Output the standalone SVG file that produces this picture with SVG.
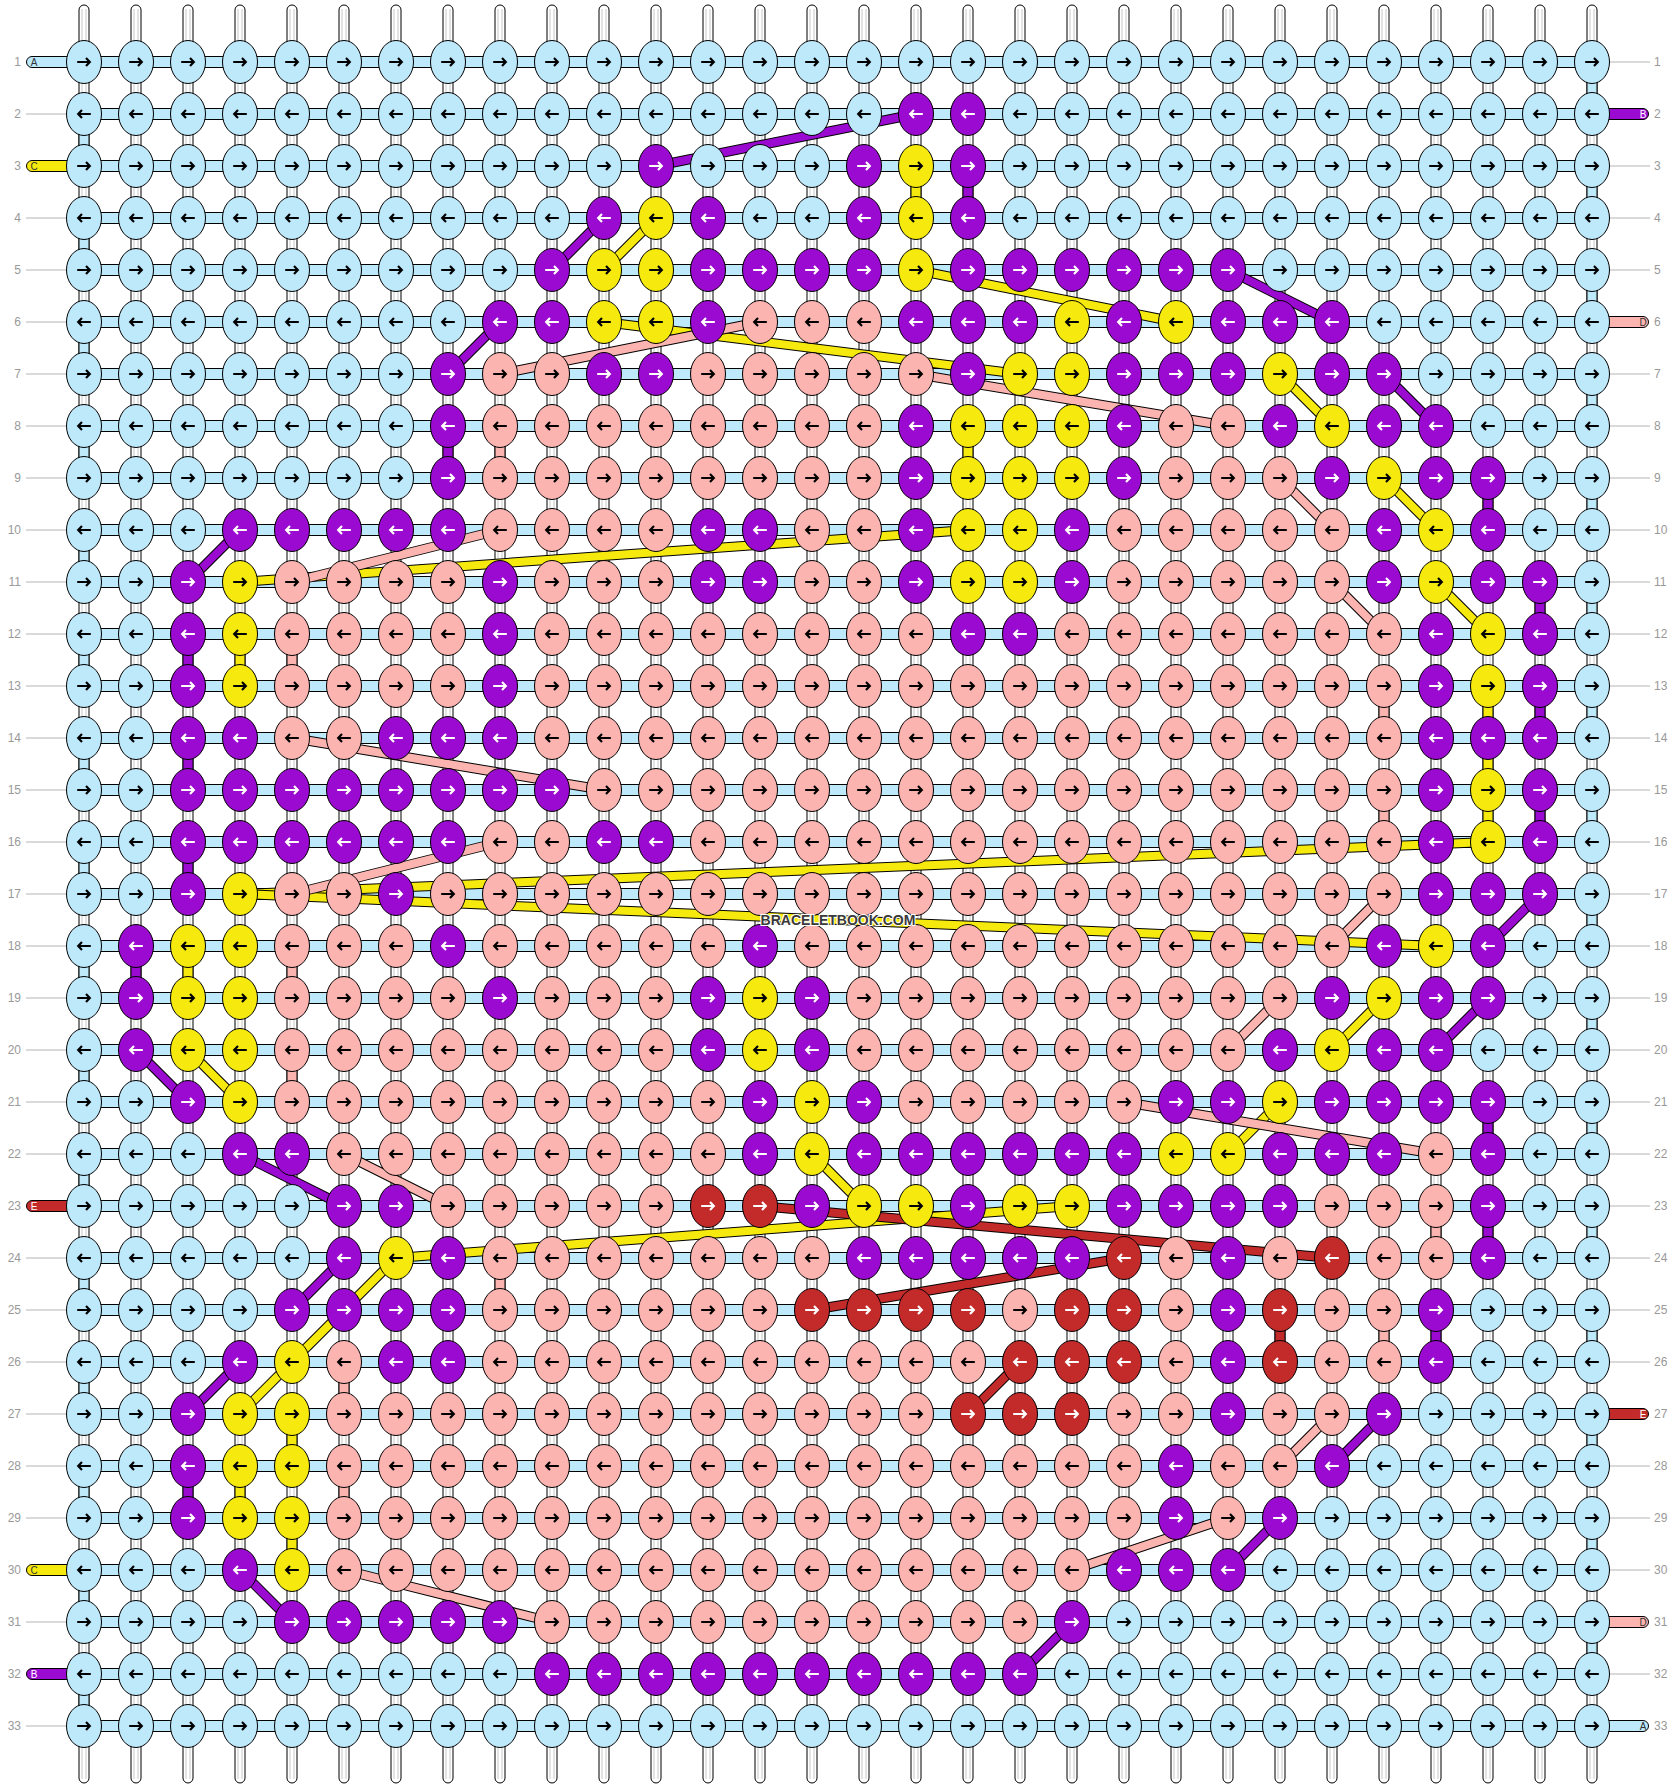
<svg xmlns="http://www.w3.org/2000/svg" xmlns:xlink="http://www.w3.org/1999/xlink" width="1676" height="1788" viewBox="0 0 1676 1788">
<style>
.n{font-family:"Liberation Sans",Arial,sans-serif;font-size:12px;fill:#999}
.ne{text-anchor:end}
.lt{font-family:"Liberation Sans",Arial,sans-serif;font-size:10px;text-anchor:middle}
.wm{font-family:"Liberation Sans",Arial,sans-serif;font-weight:bold;font-size:14px;fill:#3a3a3a;text-anchor:middle;stroke:#fff;stroke-width:2;paint-order:stroke}
.gl{stroke:#b4b4b4;stroke-width:1;fill:none}
.o{stroke:#000;stroke-width:10}
.v{stroke-width:9}
.o.v{stroke-width:11}
.A{stroke:#bee9fb}.B{stroke:#9b0ad0}.C{stroke:#f6e90e}.D{stroke:#fbb4b0}.E{stroke:#c32a2a}
</style>
<defs>
<g id="s"><rect x="-5" y="5" width="10" height="1778" rx="5" fill="#fff" stroke="#000"/><path d="M-2 9V1779M2 9V1779" stroke="#c8c8c8" fill="none"/></g>
<rect id="bd" x="84" y="-5.5" width="1508" height="11" fill="#bee9fb" stroke="#000"/>
<ellipse id="e" rx="17.5" ry="21.5" stroke="#000"/>
<path id="pr" d="M-6.8 0H5M2-3.9L5.8 0L2 3.9" fill="none" stroke-width="2.2"/>
<path id="pl" d="M6.8 0H-5M-2-3.9L-5.8 0L-2 3.9" fill="none" stroke-width="2.2"/>
<g id="Ar"><use href="#e" fill="#bee9fb"/><use href="#pr" stroke="#000"/></g>
<g id="Al"><use href="#e" fill="#bee9fb"/><use href="#pl" stroke="#000"/></g>
<g id="Br"><use href="#e" fill="#9b0ad0"/><use href="#pr" stroke="#fff"/></g>
<g id="Bl"><use href="#e" fill="#9b0ad0"/><use href="#pl" stroke="#fff"/></g>
<g id="Cr"><use href="#e" fill="#f6e90e"/><use href="#pr" stroke="#000"/></g>
<g id="Cl"><use href="#e" fill="#f6e90e"/><use href="#pl" stroke="#000"/></g>
<g id="Dr"><use href="#e" fill="#fbb4b0"/><use href="#pr" stroke="#000"/></g>
<g id="Dl"><use href="#e" fill="#fbb4b0"/><use href="#pl" stroke="#000"/></g>
<g id="Er"><use href="#e" fill="#c32a2a"/><use href="#pr" stroke="#fff"/></g>
<g id="El"><use href="#e" fill="#c32a2a"/><use href="#pl" stroke="#fff"/></g>
</defs>
<rect width="1676" height="1788" fill="#fff"/>
<g id="strings">
<use href="#s" x="84"/><use href="#s" x="136"/><use href="#s" x="188"/><use href="#s" x="240"/><use href="#s" x="292"/><use href="#s" x="344"/><use href="#s" x="396"/><use href="#s" x="448"/><use href="#s" x="500"/><use href="#s" x="552"/><use href="#s" x="604"/><use href="#s" x="656"/><use href="#s" x="708"/><use href="#s" x="760"/><use href="#s" x="812"/><use href="#s" x="864"/><use href="#s" x="916"/><use href="#s" x="968"/><use href="#s" x="1020"/><use href="#s" x="1072"/><use href="#s" x="1124"/><use href="#s" x="1176"/><use href="#s" x="1228"/><use href="#s" x="1280"/><use href="#s" x="1332"/><use href="#s" x="1384"/><use href="#s" x="1436"/><use href="#s" x="1488"/><use href="#s" x="1540"/><use href="#s" x="1592"/>
</g>
<g id="rowbands">
<use href="#bd" y="62"/><use href="#bd" y="114"/><use href="#bd" y="166"/><use href="#bd" y="218"/><use href="#bd" y="270"/><use href="#bd" y="322"/><use href="#bd" y="374"/><use href="#bd" y="426"/><use href="#bd" y="478"/><use href="#bd" y="530"/><use href="#bd" y="582"/><use href="#bd" y="634"/><use href="#bd" y="686"/><use href="#bd" y="738"/><use href="#bd" y="790"/><use href="#bd" y="842"/><use href="#bd" y="894"/><use href="#bd" y="946"/><use href="#bd" y="998"/><use href="#bd" y="1050"/><use href="#bd" y="1102"/><use href="#bd" y="1154"/><use href="#bd" y="1206"/><use href="#bd" y="1258"/><use href="#bd" y="1310"/><use href="#bd" y="1362"/><use href="#bd" y="1414"/><use href="#bd" y="1466"/><use href="#bd" y="1518"/><use href="#bd" y="1570"/><use href="#bd" y="1622"/><use href="#bd" y="1674"/><use href="#bd" y="1726"/>
</g>
<g id="labels">
<path class="gl" d="M26 114H66M26 218H66M26 270H66M26 322H66M26 374H66M26 426H66M26 478H66M26 530H66M26 582H66M26 634H66M26 686H66M26 738H66M26 790H66M26 842H66M26 894H66M26 946H66M26 998H66M26 1050H66M26 1102H66M26 1154H66M26 1258H66M26 1310H66M26 1362H66M26 1414H66M26 1466H66M26 1518H66M26 1622H66M26 1726H66"/>
<path class="gl" d="M1610 62H1650M1610 166H1650M1610 218H1650M1610 270H1650M1610 374H1650M1610 426H1650M1610 478H1650M1610 530H1650M1610 582H1650M1610 634H1650M1610 686H1650M1610 738H1650M1610 790H1650M1610 842H1650M1610 894H1650M1610 946H1650M1610 998H1650M1610 1050H1650M1610 1102H1650M1610 1154H1650M1610 1206H1650M1610 1258H1650M1610 1310H1650M1610 1362H1650M1610 1466H1650M1610 1518H1650M1610 1570H1650M1610 1674H1650"/>
<path d="M75 56.5H32A5.5 5.5 0 0 0 32 67.5H75Z" fill="#bee9fb" stroke="#000"/>
<path d="M75 160.5H32A5.5 5.5 0 0 0 32 171.5H75Z" fill="#f6e90e" stroke="#000"/>
<path d="M75 1200.5H32A5.5 5.5 0 0 0 32 1211.5H75Z" fill="#c32a2a" stroke="#000"/>
<path d="M75 1564.5H32A5.5 5.5 0 0 0 32 1575.5H75Z" fill="#f6e90e" stroke="#000"/>
<path d="M75 1668.5H32A5.5 5.5 0 0 0 32 1679.5H75Z" fill="#9b0ad0" stroke="#000"/>
<path d="M1601 108.5H1643A5.5 5.5 0 0 1 1643 119.5H1601Z" fill="#9b0ad0" stroke="#000"/>
<path d="M1601 316.5H1643A5.5 5.5 0 0 1 1643 327.5H1601Z" fill="#fbb4b0" stroke="#000"/>
<path d="M1601 1408.5H1643A5.5 5.5 0 0 1 1643 1419.5H1601Z" fill="#c32a2a" stroke="#000"/>
<path d="M1601 1616.5H1643A5.5 5.5 0 0 1 1643 1627.5H1601Z" fill="#fbb4b0" stroke="#000"/>
<path d="M1601 1720.5H1643A5.5 5.5 0 0 1 1643 1731.5H1601Z" fill="#bee9fb" stroke="#000"/>
<text class="lt" x="34" y="65.5" fill="#333">A</text>
<text class="lt" x="34" y="169.5" fill="#333">C</text>
<text class="lt" x="34" y="1209.5" fill="#fff">E</text>
<text class="lt" x="34" y="1573.5" fill="#333">C</text>
<text class="lt" x="34" y="1677.5" fill="#fff">B</text>
<text class="lt" x="1643" y="117.5" fill="#fff">B</text>
<text class="lt" x="1643" y="325.5" fill="#333">D</text>
<text class="lt" x="1643" y="1417.5" fill="#fff">E</text>
<text class="lt" x="1643" y="1625.5" fill="#333">D</text>
<text class="lt" x="1643" y="1729.5" fill="#333">A</text>
<g class="n ne">
<text x="21" y="66">1</text><text x="21" y="118">2</text><text x="21" y="170">3</text><text x="21" y="222">4</text><text x="21" y="274">5</text><text x="21" y="326">6</text><text x="21" y="378">7</text><text x="21" y="430">8</text><text x="21" y="482">9</text><text x="21" y="534">10</text><text x="21" y="586">11</text><text x="21" y="638">12</text><text x="21" y="690">13</text><text x="21" y="742">14</text><text x="21" y="794">15</text><text x="21" y="846">16</text><text x="21" y="898">17</text><text x="21" y="950">18</text><text x="21" y="1002">19</text><text x="21" y="1054">20</text><text x="21" y="1106">21</text><text x="21" y="1158">22</text><text x="21" y="1210">23</text><text x="21" y="1262">24</text><text x="21" y="1314">25</text><text x="21" y="1366">26</text><text x="21" y="1418">27</text><text x="21" y="1470">28</text><text x="21" y="1522">29</text><text x="21" y="1574">30</text><text x="21" y="1626">31</text><text x="21" y="1678">32</text><text x="21" y="1730">33</text>
</g>
<g class="n">
<text x="1654" y="66">1</text><text x="1654" y="118">2</text><text x="1654" y="170">3</text><text x="1654" y="222">4</text><text x="1654" y="274">5</text><text x="1654" y="326">6</text><text x="1654" y="378">7</text><text x="1654" y="430">8</text><text x="1654" y="482">9</text><text x="1654" y="534">10</text><text x="1654" y="586">11</text><text x="1654" y="638">12</text><text x="1654" y="690">13</text><text x="1654" y="742">14</text><text x="1654" y="794">15</text><text x="1654" y="846">16</text><text x="1654" y="898">17</text><text x="1654" y="950">18</text><text x="1654" y="1002">19</text><text x="1654" y="1054">20</text><text x="1654" y="1106">21</text><text x="1654" y="1158">22</text><text x="1654" y="1210">23</text><text x="1654" y="1262">24</text><text x="1654" y="1314">25</text><text x="1654" y="1366">26</text><text x="1654" y="1418">27</text><text x="1654" y="1470">28</text><text x="1654" y="1522">29</text><text x="1654" y="1574">30</text><text x="1654" y="1626">31</text><text x="1654" y="1678">32</text><text x="1654" y="1730">33</text>
</g>
</g>
<g id="connectors" fill="none" stroke-width="8">
<path class="o v" d="M1592 62V114M84 114V166M1592 166V218M84 218V270M1592 270V322M84 322V374M1592 374V426M84 426V478M1592 478V530M84 530V582M1592 582V634M84 634V686M1592 686V738M84 738V790M1592 790V842M84 842V894M1592 894V946M84 946V998M1592 998V1050M84 1050V1102M1592 1102V1154M84 1154V1206M1592 1206V1258M84 1258V1310M1592 1310V1362M84 1362V1414M1592 1414V1466M84 1466V1518M1592 1518V1570M84 1570V1622M1592 1622V1674M84 1674V1726"/>
<path class="v A" d="M1592 62V114M84 114V166M1592 166V218M84 218V270M1592 270V322M84 322V374M1592 374V426M84 426V478M1592 478V530M84 530V582M1592 582V634M84 634V686M1592 686V738M84 738V790M1592 790V842M84 842V894M1592 894V946M84 946V998M1592 998V1050M84 1050V1102M1592 1102V1154M84 1154V1206M1592 1206V1258M84 1258V1310M1592 1310V1362M84 1362V1414M1592 1414V1466M84 1466V1518M1592 1518V1570M84 1570V1622M1592 1622V1674M84 1674V1726"/>
<path class="o" d="M916 114L656 166"/><path class="B" d="M916 114L656 166"/>
<path class="o v" d="M968 166V218"/><path class="v B" d="M968 166V218"/>
<path class="o" d="M604 218L552 270"/><path class="B" d="M604 218L552 270"/>
<path class="o" d="M1228 270L1332 322"/><path class="B" d="M1228 270L1332 322"/>
<path class="o" d="M500 322L448 374"/><path class="B" d="M500 322L448 374"/>
<path class="o" d="M1384 374L1436 426"/><path class="B" d="M1384 374L1436 426"/>
<path class="o v" d="M448 426V478"/><path class="v B" d="M448 426V478"/>
<path class="o v" d="M1488 478V530"/><path class="v B" d="M1488 478V530"/>
<path class="o" d="M240 530L188 582"/><path class="B" d="M240 530L188 582"/>
<path class="o v" d="M1540 582V634"/><path class="v B" d="M1540 582V634"/>
<path class="o v" d="M188 634V686"/><path class="v B" d="M188 634V686"/>
<path class="o v" d="M1540 686V738"/><path class="v B" d="M1540 686V738"/>
<path class="o v" d="M188 738V790"/><path class="v B" d="M188 738V790"/>
<path class="o v" d="M1540 790V842"/><path class="v B" d="M1540 790V842"/>
<path class="o v" d="M188 842V894"/><path class="v B" d="M188 842V894"/>
<path class="o" d="M1540 894L1488 946"/><path class="B" d="M1540 894L1488 946"/>
<path class="o v" d="M136 946V998"/><path class="v B" d="M136 946V998"/>
<path class="o" d="M1488 998L1436 1050"/><path class="B" d="M1488 998L1436 1050"/>
<path class="o" d="M136 1050L188 1102"/><path class="B" d="M136 1050L188 1102"/>
<path class="o v" d="M1488 1102V1154"/><path class="v B" d="M1488 1102V1154"/>
<path class="o" d="M240 1154L344 1206"/><path class="B" d="M240 1154L344 1206"/>
<path class="o v" d="M1488 1206V1258"/><path class="v B" d="M1488 1206V1258"/>
<path class="o" d="M344 1258L292 1310"/><path class="B" d="M344 1258L292 1310"/>
<path class="o v" d="M1436 1310V1362"/><path class="v B" d="M1436 1310V1362"/>
<path class="o" d="M240 1362L188 1414"/><path class="B" d="M240 1362L188 1414"/>
<path class="o" d="M1384 1414L1332 1466"/><path class="B" d="M1384 1414L1332 1466"/>
<path class="o v" d="M188 1466V1518"/><path class="v B" d="M188 1466V1518"/>
<path class="o" d="M1280 1518L1228 1570"/><path class="B" d="M1280 1518L1228 1570"/>
<path class="o" d="M240 1570L292 1622"/><path class="B" d="M240 1570L292 1622"/>
<path class="o" d="M1072 1622L1020 1674"/><path class="B" d="M1072 1622L1020 1674"/>
<path class="o v" d="M916 166V218"/><path class="v C" d="M916 166V218"/>
<path class="o" d="M656 218L604 270"/><path class="C" d="M656 218L604 270"/>
<path class="o" d="M916 270L1176 322"/><path class="C" d="M916 270L1176 322"/>
<path class="o" d="M604 322L1020 374"/><path class="C" d="M604 322L1020 374"/>
<path class="o" d="M1280 374L1332 426"/><path class="C" d="M1280 374L1332 426"/>
<path class="o v" d="M968 426V478"/><path class="v C" d="M968 426V478"/>
<path class="o" d="M1384 478L1436 530"/><path class="C" d="M1384 478L1436 530"/>
<path class="o" d="M968 530L240 582"/><path class="C" d="M968 530L240 582"/>
<path class="o" d="M1436 582L1488 634"/><path class="C" d="M1436 582L1488 634"/>
<path class="o v" d="M240 634V686"/><path class="v C" d="M240 634V686"/>
<path class="o v" d="M1488 686V842"/><path class="v C" d="M1488 686V842"/>
<path class="o" d="M1488 842L240 894"/><path class="C" d="M1488 842L240 894"/>
<path class="o" d="M240 894L1436 946"/><path class="C" d="M240 894L1436 946"/>
<path class="o v" d="M188 946V998"/><path class="v C" d="M188 946V998"/>
<path class="o" d="M1384 998L1332 1050"/><path class="C" d="M1384 998L1332 1050"/>
<path class="o" d="M188 1050L240 1102"/><path class="C" d="M188 1050L240 1102"/>
<path class="o" d="M1280 1102L1228 1154"/><path class="C" d="M1280 1102L1228 1154"/>
<path class="o" d="M812 1154L864 1206"/><path class="C" d="M812 1154L864 1206"/>
<path class="o" d="M1072 1206L396 1258"/><path class="C" d="M1072 1206L396 1258"/>
<path class="o" d="M396 1258L292 1362"/><path class="C" d="M396 1258L292 1362"/>
<path class="o" d="M292 1362L240 1414"/><path class="C" d="M292 1362L240 1414"/>
<path class="o v" d="M292 1414V1466"/><path class="v C" d="M292 1414V1466"/>
<path class="o v" d="M240 1466V1518"/><path class="v C" d="M240 1466V1518"/>
<path class="o v" d="M292 1518V1570"/><path class="v C" d="M292 1518V1570"/>
<path class="o" d="M760 322L500 374"/><path class="D" d="M760 322L500 374"/>
<path class="o" d="M916 374L1228 426"/><path class="D" d="M916 374L1228 426"/>
<path class="o v" d="M500 426V478"/><path class="v D" d="M500 426V478"/>
<path class="o" d="M1280 478L1332 530"/><path class="D" d="M1280 478L1332 530"/>
<path class="o" d="M500 530L292 582"/><path class="D" d="M500 530L292 582"/>
<path class="o" d="M1332 582L1384 634"/><path class="D" d="M1332 582L1384 634"/>
<path class="o v" d="M292 634V686"/><path class="v D" d="M292 634V686"/>
<path class="o v" d="M1384 686V738"/><path class="v D" d="M1384 686V738"/>
<path class="o" d="M292 738L604 790"/><path class="D" d="M292 738L604 790"/>
<path class="o v" d="M1384 790V842"/><path class="v D" d="M1384 790V842"/>
<path class="o" d="M500 842L292 894"/><path class="D" d="M500 842L292 894"/>
<path class="o" d="M1384 894L1332 946"/><path class="D" d="M1384 894L1332 946"/>
<path class="o v" d="M292 946V998"/><path class="v D" d="M292 946V998"/>
<path class="o" d="M1280 998L1228 1050"/><path class="D" d="M1280 998L1228 1050"/>
<path class="o v" d="M292 1050V1102"/><path class="v D" d="M292 1050V1102"/>
<path class="o" d="M1124 1102L1436 1154"/><path class="D" d="M1124 1102L1436 1154"/>
<path class="o" d="M344 1154L448 1206"/><path class="D" d="M344 1154L448 1206"/>
<path class="o v" d="M1436 1206V1258"/><path class="v D" d="M1436 1206V1258"/>
<path class="o v" d="M500 1258V1310"/><path class="v D" d="M500 1258V1310"/>
<path class="o v" d="M1384 1310V1362"/><path class="v D" d="M1384 1310V1362"/>
<path class="o v" d="M344 1362V1414"/><path class="v D" d="M344 1362V1414"/>
<path class="o" d="M1332 1414L1280 1466"/><path class="D" d="M1332 1414L1280 1466"/>
<path class="o v" d="M344 1466V1518"/><path class="v D" d="M344 1466V1518"/>
<path class="o" d="M1228 1518L1072 1570"/><path class="D" d="M1228 1518L1072 1570"/>
<path class="o" d="M344 1570L552 1622"/><path class="D" d="M344 1570L552 1622"/>
<path class="o" d="M760 1206L1332 1258"/><path class="E" d="M760 1206L1332 1258"/>
<path class="o" d="M1124 1258L812 1310"/><path class="E" d="M1124 1258L812 1310"/>
<path class="o v" d="M1280 1310V1362"/><path class="v E" d="M1280 1310V1362"/>
<path class="o" d="M1020 1362L968 1414"/><path class="E" d="M1020 1362L968 1414"/>
</g>
<g id="knots">
<g id="row1" transform="translate(0 62)">
<g id="k1-1"><use href="#Ar" x="84"/></g><g id="k1-2"><use href="#Ar" x="136"/></g><g id="k1-3"><use href="#Ar" x="188"/></g><g id="k1-4"><use href="#Ar" x="240"/></g><g id="k1-5"><use href="#Ar" x="292"/></g><g id="k1-6"><use href="#Ar" x="344"/></g><g id="k1-7"><use href="#Ar" x="396"/></g><g id="k1-8"><use href="#Ar" x="448"/></g><g id="k1-9"><use href="#Ar" x="500"/></g><g id="k1-10"><use href="#Ar" x="552"/></g><g id="k1-11"><use href="#Ar" x="604"/></g><g id="k1-12"><use href="#Ar" x="656"/></g><g id="k1-13"><use href="#Ar" x="708"/></g><g id="k1-14"><use href="#Ar" x="760"/></g><g id="k1-15"><use href="#Ar" x="812"/></g><g id="k1-16"><use href="#Ar" x="864"/></g><g id="k1-17"><use href="#Ar" x="916"/></g><g id="k1-18"><use href="#Ar" x="968"/></g><g id="k1-19"><use href="#Ar" x="1020"/></g><g id="k1-20"><use href="#Ar" x="1072"/></g><g id="k1-21"><use href="#Ar" x="1124"/></g><g id="k1-22"><use href="#Ar" x="1176"/></g><g id="k1-23"><use href="#Ar" x="1228"/></g><g id="k1-24"><use href="#Ar" x="1280"/></g><g id="k1-25"><use href="#Ar" x="1332"/></g><g id="k1-26"><use href="#Ar" x="1384"/></g><g id="k1-27"><use href="#Ar" x="1436"/></g><g id="k1-28"><use href="#Ar" x="1488"/></g><g id="k1-29"><use href="#Ar" x="1540"/></g><g id="k1-30"><use href="#Ar" x="1592"/></g>
</g>
<g id="row2" transform="translate(0 114)">
<g id="k2-1"><use href="#Al" x="84"/></g><g id="k2-2"><use href="#Al" x="136"/></g><g id="k2-3"><use href="#Al" x="188"/></g><g id="k2-4"><use href="#Al" x="240"/></g><g id="k2-5"><use href="#Al" x="292"/></g><g id="k2-6"><use href="#Al" x="344"/></g><g id="k2-7"><use href="#Al" x="396"/></g><g id="k2-8"><use href="#Al" x="448"/></g><g id="k2-9"><use href="#Al" x="500"/></g><g id="k2-10"><use href="#Al" x="552"/></g><g id="k2-11"><use href="#Al" x="604"/></g><g id="k2-12"><use href="#Al" x="656"/></g><g id="k2-13"><use href="#Al" x="708"/></g><g id="k2-14"><use href="#Al" x="760"/></g><g id="k2-15"><use href="#Al" x="812"/></g><g id="k2-16"><use href="#Al" x="864"/></g><g id="k2-17"><use href="#Bl" x="916"/></g><g id="k2-18"><use href="#Bl" x="968"/></g><g id="k2-19"><use href="#Al" x="1020"/></g><g id="k2-20"><use href="#Al" x="1072"/></g><g id="k2-21"><use href="#Al" x="1124"/></g><g id="k2-22"><use href="#Al" x="1176"/></g><g id="k2-23"><use href="#Al" x="1228"/></g><g id="k2-24"><use href="#Al" x="1280"/></g><g id="k2-25"><use href="#Al" x="1332"/></g><g id="k2-26"><use href="#Al" x="1384"/></g><g id="k2-27"><use href="#Al" x="1436"/></g><g id="k2-28"><use href="#Al" x="1488"/></g><g id="k2-29"><use href="#Al" x="1540"/></g><g id="k2-30"><use href="#Al" x="1592"/></g>
</g>
<g id="row3" transform="translate(0 166)">
<g id="k3-1"><use href="#Ar" x="84"/></g><g id="k3-2"><use href="#Ar" x="136"/></g><g id="k3-3"><use href="#Ar" x="188"/></g><g id="k3-4"><use href="#Ar" x="240"/></g><g id="k3-5"><use href="#Ar" x="292"/></g><g id="k3-6"><use href="#Ar" x="344"/></g><g id="k3-7"><use href="#Ar" x="396"/></g><g id="k3-8"><use href="#Ar" x="448"/></g><g id="k3-9"><use href="#Ar" x="500"/></g><g id="k3-10"><use href="#Ar" x="552"/></g><g id="k3-11"><use href="#Ar" x="604"/></g><g id="k3-12"><use href="#Br" x="656"/></g><g id="k3-13"><use href="#Ar" x="708"/></g><g id="k3-14"><use href="#Ar" x="760"/></g><g id="k3-15"><use href="#Ar" x="812"/></g><g id="k3-16"><use href="#Br" x="864"/></g><g id="k3-17"><use href="#Cr" x="916"/></g><g id="k3-18"><use href="#Br" x="968"/></g><g id="k3-19"><use href="#Ar" x="1020"/></g><g id="k3-20"><use href="#Ar" x="1072"/></g><g id="k3-21"><use href="#Ar" x="1124"/></g><g id="k3-22"><use href="#Ar" x="1176"/></g><g id="k3-23"><use href="#Ar" x="1228"/></g><g id="k3-24"><use href="#Ar" x="1280"/></g><g id="k3-25"><use href="#Ar" x="1332"/></g><g id="k3-26"><use href="#Ar" x="1384"/></g><g id="k3-27"><use href="#Ar" x="1436"/></g><g id="k3-28"><use href="#Ar" x="1488"/></g><g id="k3-29"><use href="#Ar" x="1540"/></g><g id="k3-30"><use href="#Ar" x="1592"/></g>
</g>
<g id="row4" transform="translate(0 218)">
<g id="k4-1"><use href="#Al" x="84"/></g><g id="k4-2"><use href="#Al" x="136"/></g><g id="k4-3"><use href="#Al" x="188"/></g><g id="k4-4"><use href="#Al" x="240"/></g><g id="k4-5"><use href="#Al" x="292"/></g><g id="k4-6"><use href="#Al" x="344"/></g><g id="k4-7"><use href="#Al" x="396"/></g><g id="k4-8"><use href="#Al" x="448"/></g><g id="k4-9"><use href="#Al" x="500"/></g><g id="k4-10"><use href="#Al" x="552"/></g><g id="k4-11"><use href="#Bl" x="604"/></g><g id="k4-12"><use href="#Cl" x="656"/></g><g id="k4-13"><use href="#Bl" x="708"/></g><g id="k4-14"><use href="#Al" x="760"/></g><g id="k4-15"><use href="#Al" x="812"/></g><g id="k4-16"><use href="#Bl" x="864"/></g><g id="k4-17"><use href="#Cl" x="916"/></g><g id="k4-18"><use href="#Bl" x="968"/></g><g id="k4-19"><use href="#Al" x="1020"/></g><g id="k4-20"><use href="#Al" x="1072"/></g><g id="k4-21"><use href="#Al" x="1124"/></g><g id="k4-22"><use href="#Al" x="1176"/></g><g id="k4-23"><use href="#Al" x="1228"/></g><g id="k4-24"><use href="#Al" x="1280"/></g><g id="k4-25"><use href="#Al" x="1332"/></g><g id="k4-26"><use href="#Al" x="1384"/></g><g id="k4-27"><use href="#Al" x="1436"/></g><g id="k4-28"><use href="#Al" x="1488"/></g><g id="k4-29"><use href="#Al" x="1540"/></g><g id="k4-30"><use href="#Al" x="1592"/></g>
</g>
<g id="row5" transform="translate(0 270)">
<g id="k5-1"><use href="#Ar" x="84"/></g><g id="k5-2"><use href="#Ar" x="136"/></g><g id="k5-3"><use href="#Ar" x="188"/></g><g id="k5-4"><use href="#Ar" x="240"/></g><g id="k5-5"><use href="#Ar" x="292"/></g><g id="k5-6"><use href="#Ar" x="344"/></g><g id="k5-7"><use href="#Ar" x="396"/></g><g id="k5-8"><use href="#Ar" x="448"/></g><g id="k5-9"><use href="#Ar" x="500"/></g><g id="k5-10"><use href="#Br" x="552"/></g><g id="k5-11"><use href="#Cr" x="604"/></g><g id="k5-12"><use href="#Cr" x="656"/></g><g id="k5-13"><use href="#Br" x="708"/></g><g id="k5-14"><use href="#Br" x="760"/></g><g id="k5-15"><use href="#Br" x="812"/></g><g id="k5-16"><use href="#Br" x="864"/></g><g id="k5-17"><use href="#Cr" x="916"/></g><g id="k5-18"><use href="#Br" x="968"/></g><g id="k5-19"><use href="#Br" x="1020"/></g><g id="k5-20"><use href="#Br" x="1072"/></g><g id="k5-21"><use href="#Br" x="1124"/></g><g id="k5-22"><use href="#Br" x="1176"/></g><g id="k5-23"><use href="#Br" x="1228"/></g><g id="k5-24"><use href="#Ar" x="1280"/></g><g id="k5-25"><use href="#Ar" x="1332"/></g><g id="k5-26"><use href="#Ar" x="1384"/></g><g id="k5-27"><use href="#Ar" x="1436"/></g><g id="k5-28"><use href="#Ar" x="1488"/></g><g id="k5-29"><use href="#Ar" x="1540"/></g><g id="k5-30"><use href="#Ar" x="1592"/></g>
</g>
<g id="row6" transform="translate(0 322)">
<g id="k6-1"><use href="#Al" x="84"/></g><g id="k6-2"><use href="#Al" x="136"/></g><g id="k6-3"><use href="#Al" x="188"/></g><g id="k6-4"><use href="#Al" x="240"/></g><g id="k6-5"><use href="#Al" x="292"/></g><g id="k6-6"><use href="#Al" x="344"/></g><g id="k6-7"><use href="#Al" x="396"/></g><g id="k6-8"><use href="#Al" x="448"/></g><g id="k6-9"><use href="#Bl" x="500"/></g><g id="k6-10"><use href="#Bl" x="552"/></g><g id="k6-11"><use href="#Cl" x="604"/></g><g id="k6-12"><use href="#Cl" x="656"/></g><g id="k6-13"><use href="#Bl" x="708"/></g><g id="k6-14"><use href="#Dl" x="760"/></g><g id="k6-15"><use href="#Dl" x="812"/></g><g id="k6-16"><use href="#Dl" x="864"/></g><g id="k6-17"><use href="#Bl" x="916"/></g><g id="k6-18"><use href="#Bl" x="968"/></g><g id="k6-19"><use href="#Bl" x="1020"/></g><g id="k6-20"><use href="#Cl" x="1072"/></g><g id="k6-21"><use href="#Bl" x="1124"/></g><g id="k6-22"><use href="#Cl" x="1176"/></g><g id="k6-23"><use href="#Bl" x="1228"/></g><g id="k6-24"><use href="#Bl" x="1280"/></g><g id="k6-25"><use href="#Bl" x="1332"/></g><g id="k6-26"><use href="#Al" x="1384"/></g><g id="k6-27"><use href="#Al" x="1436"/></g><g id="k6-28"><use href="#Al" x="1488"/></g><g id="k6-29"><use href="#Al" x="1540"/></g><g id="k6-30"><use href="#Al" x="1592"/></g>
</g>
<g id="row7" transform="translate(0 374)">
<g id="k7-1"><use href="#Ar" x="84"/></g><g id="k7-2"><use href="#Ar" x="136"/></g><g id="k7-3"><use href="#Ar" x="188"/></g><g id="k7-4"><use href="#Ar" x="240"/></g><g id="k7-5"><use href="#Ar" x="292"/></g><g id="k7-6"><use href="#Ar" x="344"/></g><g id="k7-7"><use href="#Ar" x="396"/></g><g id="k7-8"><use href="#Br" x="448"/></g><g id="k7-9"><use href="#Dr" x="500"/></g><g id="k7-10"><use href="#Dr" x="552"/></g><g id="k7-11"><use href="#Br" x="604"/></g><g id="k7-12"><use href="#Br" x="656"/></g><g id="k7-13"><use href="#Dr" x="708"/></g><g id="k7-14"><use href="#Dr" x="760"/></g><g id="k7-15"><use href="#Dr" x="812"/></g><g id="k7-16"><use href="#Dr" x="864"/></g><g id="k7-17"><use href="#Dr" x="916"/></g><g id="k7-18"><use href="#Br" x="968"/></g><g id="k7-19"><use href="#Cr" x="1020"/></g><g id="k7-20"><use href="#Cr" x="1072"/></g><g id="k7-21"><use href="#Br" x="1124"/></g><g id="k7-22"><use href="#Br" x="1176"/></g><g id="k7-23"><use href="#Br" x="1228"/></g><g id="k7-24"><use href="#Cr" x="1280"/></g><g id="k7-25"><use href="#Br" x="1332"/></g><g id="k7-26"><use href="#Br" x="1384"/></g><g id="k7-27"><use href="#Ar" x="1436"/></g><g id="k7-28"><use href="#Ar" x="1488"/></g><g id="k7-29"><use href="#Ar" x="1540"/></g><g id="k7-30"><use href="#Ar" x="1592"/></g>
</g>
<g id="row8" transform="translate(0 426)">
<g id="k8-1"><use href="#Al" x="84"/></g><g id="k8-2"><use href="#Al" x="136"/></g><g id="k8-3"><use href="#Al" x="188"/></g><g id="k8-4"><use href="#Al" x="240"/></g><g id="k8-5"><use href="#Al" x="292"/></g><g id="k8-6"><use href="#Al" x="344"/></g><g id="k8-7"><use href="#Al" x="396"/></g><g id="k8-8"><use href="#Bl" x="448"/></g><g id="k8-9"><use href="#Dl" x="500"/></g><g id="k8-10"><use href="#Dl" x="552"/></g><g id="k8-11"><use href="#Dl" x="604"/></g><g id="k8-12"><use href="#Dl" x="656"/></g><g id="k8-13"><use href="#Dl" x="708"/></g><g id="k8-14"><use href="#Dl" x="760"/></g><g id="k8-15"><use href="#Dl" x="812"/></g><g id="k8-16"><use href="#Dl" x="864"/></g><g id="k8-17"><use href="#Bl" x="916"/></g><g id="k8-18"><use href="#Cl" x="968"/></g><g id="k8-19"><use href="#Cl" x="1020"/></g><g id="k8-20"><use href="#Cl" x="1072"/></g><g id="k8-21"><use href="#Bl" x="1124"/></g><g id="k8-22"><use href="#Dl" x="1176"/></g><g id="k8-23"><use href="#Dl" x="1228"/></g><g id="k8-24"><use href="#Bl" x="1280"/></g><g id="k8-25"><use href="#Cl" x="1332"/></g><g id="k8-26"><use href="#Bl" x="1384"/></g><g id="k8-27"><use href="#Bl" x="1436"/></g><g id="k8-28"><use href="#Al" x="1488"/></g><g id="k8-29"><use href="#Al" x="1540"/></g><g id="k8-30"><use href="#Al" x="1592"/></g>
</g>
<g id="row9" transform="translate(0 478)">
<g id="k9-1"><use href="#Ar" x="84"/></g><g id="k9-2"><use href="#Ar" x="136"/></g><g id="k9-3"><use href="#Ar" x="188"/></g><g id="k9-4"><use href="#Ar" x="240"/></g><g id="k9-5"><use href="#Ar" x="292"/></g><g id="k9-6"><use href="#Ar" x="344"/></g><g id="k9-7"><use href="#Ar" x="396"/></g><g id="k9-8"><use href="#Br" x="448"/></g><g id="k9-9"><use href="#Dr" x="500"/></g><g id="k9-10"><use href="#Dr" x="552"/></g><g id="k9-11"><use href="#Dr" x="604"/></g><g id="k9-12"><use href="#Dr" x="656"/></g><g id="k9-13"><use href="#Dr" x="708"/></g><g id="k9-14"><use href="#Dr" x="760"/></g><g id="k9-15"><use href="#Dr" x="812"/></g><g id="k9-16"><use href="#Dr" x="864"/></g><g id="k9-17"><use href="#Br" x="916"/></g><g id="k9-18"><use href="#Cr" x="968"/></g><g id="k9-19"><use href="#Cr" x="1020"/></g><g id="k9-20"><use href="#Cr" x="1072"/></g><g id="k9-21"><use href="#Br" x="1124"/></g><g id="k9-22"><use href="#Dr" x="1176"/></g><g id="k9-23"><use href="#Dr" x="1228"/></g><g id="k9-24"><use href="#Dr" x="1280"/></g><g id="k9-25"><use href="#Br" x="1332"/></g><g id="k9-26"><use href="#Cr" x="1384"/></g><g id="k9-27"><use href="#Br" x="1436"/></g><g id="k9-28"><use href="#Br" x="1488"/></g><g id="k9-29"><use href="#Ar" x="1540"/></g><g id="k9-30"><use href="#Ar" x="1592"/></g>
</g>
<g id="row10" transform="translate(0 530)">
<g id="k10-1"><use href="#Al" x="84"/></g><g id="k10-2"><use href="#Al" x="136"/></g><g id="k10-3"><use href="#Al" x="188"/></g><g id="k10-4"><use href="#Bl" x="240"/></g><g id="k10-5"><use href="#Bl" x="292"/></g><g id="k10-6"><use href="#Bl" x="344"/></g><g id="k10-7"><use href="#Bl" x="396"/></g><g id="k10-8"><use href="#Bl" x="448"/></g><g id="k10-9"><use href="#Dl" x="500"/></g><g id="k10-10"><use href="#Dl" x="552"/></g><g id="k10-11"><use href="#Dl" x="604"/></g><g id="k10-12"><use href="#Dl" x="656"/></g><g id="k10-13"><use href="#Bl" x="708"/></g><g id="k10-14"><use href="#Bl" x="760"/></g><g id="k10-15"><use href="#Dl" x="812"/></g><g id="k10-16"><use href="#Dl" x="864"/></g><g id="k10-17"><use href="#Bl" x="916"/></g><g id="k10-18"><use href="#Cl" x="968"/></g><g id="k10-19"><use href="#Cl" x="1020"/></g><g id="k10-20"><use href="#Bl" x="1072"/></g><g id="k10-21"><use href="#Dl" x="1124"/></g><g id="k10-22"><use href="#Dl" x="1176"/></g><g id="k10-23"><use href="#Dl" x="1228"/></g><g id="k10-24"><use href="#Dl" x="1280"/></g><g id="k10-25"><use href="#Dl" x="1332"/></g><g id="k10-26"><use href="#Bl" x="1384"/></g><g id="k10-27"><use href="#Cl" x="1436"/></g><g id="k10-28"><use href="#Bl" x="1488"/></g><g id="k10-29"><use href="#Al" x="1540"/></g><g id="k10-30"><use href="#Al" x="1592"/></g>
</g>
<g id="row11" transform="translate(0 582)">
<g id="k11-1"><use href="#Ar" x="84"/></g><g id="k11-2"><use href="#Ar" x="136"/></g><g id="k11-3"><use href="#Br" x="188"/></g><g id="k11-4"><use href="#Cr" x="240"/></g><g id="k11-5"><use href="#Dr" x="292"/></g><g id="k11-6"><use href="#Dr" x="344"/></g><g id="k11-7"><use href="#Dr" x="396"/></g><g id="k11-8"><use href="#Dr" x="448"/></g><g id="k11-9"><use href="#Br" x="500"/></g><g id="k11-10"><use href="#Dr" x="552"/></g><g id="k11-11"><use href="#Dr" x="604"/></g><g id="k11-12"><use href="#Dr" x="656"/></g><g id="k11-13"><use href="#Br" x="708"/></g><g id="k11-14"><use href="#Br" x="760"/></g><g id="k11-15"><use href="#Dr" x="812"/></g><g id="k11-16"><use href="#Dr" x="864"/></g><g id="k11-17"><use href="#Br" x="916"/></g><g id="k11-18"><use href="#Cr" x="968"/></g><g id="k11-19"><use href="#Cr" x="1020"/></g><g id="k11-20"><use href="#Br" x="1072"/></g><g id="k11-21"><use href="#Dr" x="1124"/></g><g id="k11-22"><use href="#Dr" x="1176"/></g><g id="k11-23"><use href="#Dr" x="1228"/></g><g id="k11-24"><use href="#Dr" x="1280"/></g><g id="k11-25"><use href="#Dr" x="1332"/></g><g id="k11-26"><use href="#Br" x="1384"/></g><g id="k11-27"><use href="#Cr" x="1436"/></g><g id="k11-28"><use href="#Br" x="1488"/></g><g id="k11-29"><use href="#Br" x="1540"/></g><g id="k11-30"><use href="#Ar" x="1592"/></g>
</g>
<g id="row12" transform="translate(0 634)">
<g id="k12-1"><use href="#Al" x="84"/></g><g id="k12-2"><use href="#Al" x="136"/></g><g id="k12-3"><use href="#Bl" x="188"/></g><g id="k12-4"><use href="#Cl" x="240"/></g><g id="k12-5"><use href="#Dl" x="292"/></g><g id="k12-6"><use href="#Dl" x="344"/></g><g id="k12-7"><use href="#Dl" x="396"/></g><g id="k12-8"><use href="#Dl" x="448"/></g><g id="k12-9"><use href="#Bl" x="500"/></g><g id="k12-10"><use href="#Dl" x="552"/></g><g id="k12-11"><use href="#Dl" x="604"/></g><g id="k12-12"><use href="#Dl" x="656"/></g><g id="k12-13"><use href="#Dl" x="708"/></g><g id="k12-14"><use href="#Dl" x="760"/></g><g id="k12-15"><use href="#Dl" x="812"/></g><g id="k12-16"><use href="#Dl" x="864"/></g><g id="k12-17"><use href="#Dl" x="916"/></g><g id="k12-18"><use href="#Bl" x="968"/></g><g id="k12-19"><use href="#Bl" x="1020"/></g><g id="k12-20"><use href="#Dl" x="1072"/></g><g id="k12-21"><use href="#Dl" x="1124"/></g><g id="k12-22"><use href="#Dl" x="1176"/></g><g id="k12-23"><use href="#Dl" x="1228"/></g><g id="k12-24"><use href="#Dl" x="1280"/></g><g id="k12-25"><use href="#Dl" x="1332"/></g><g id="k12-26"><use href="#Dl" x="1384"/></g><g id="k12-27"><use href="#Bl" x="1436"/></g><g id="k12-28"><use href="#Cl" x="1488"/></g><g id="k12-29"><use href="#Bl" x="1540"/></g><g id="k12-30"><use href="#Al" x="1592"/></g>
</g>
<g id="row13" transform="translate(0 686)">
<g id="k13-1"><use href="#Ar" x="84"/></g><g id="k13-2"><use href="#Ar" x="136"/></g><g id="k13-3"><use href="#Br" x="188"/></g><g id="k13-4"><use href="#Cr" x="240"/></g><g id="k13-5"><use href="#Dr" x="292"/></g><g id="k13-6"><use href="#Dr" x="344"/></g><g id="k13-7"><use href="#Dr" x="396"/></g><g id="k13-8"><use href="#Dr" x="448"/></g><g id="k13-9"><use href="#Br" x="500"/></g><g id="k13-10"><use href="#Dr" x="552"/></g><g id="k13-11"><use href="#Dr" x="604"/></g><g id="k13-12"><use href="#Dr" x="656"/></g><g id="k13-13"><use href="#Dr" x="708"/></g><g id="k13-14"><use href="#Dr" x="760"/></g><g id="k13-15"><use href="#Dr" x="812"/></g><g id="k13-16"><use href="#Dr" x="864"/></g><g id="k13-17"><use href="#Dr" x="916"/></g><g id="k13-18"><use href="#Dr" x="968"/></g><g id="k13-19"><use href="#Dr" x="1020"/></g><g id="k13-20"><use href="#Dr" x="1072"/></g><g id="k13-21"><use href="#Dr" x="1124"/></g><g id="k13-22"><use href="#Dr" x="1176"/></g><g id="k13-23"><use href="#Dr" x="1228"/></g><g id="k13-24"><use href="#Dr" x="1280"/></g><g id="k13-25"><use href="#Dr" x="1332"/></g><g id="k13-26"><use href="#Dr" x="1384"/></g><g id="k13-27"><use href="#Br" x="1436"/></g><g id="k13-28"><use href="#Cr" x="1488"/></g><g id="k13-29"><use href="#Br" x="1540"/></g><g id="k13-30"><use href="#Ar" x="1592"/></g>
</g>
<g id="row14" transform="translate(0 738)">
<g id="k14-1"><use href="#Al" x="84"/></g><g id="k14-2"><use href="#Al" x="136"/></g><g id="k14-3"><use href="#Bl" x="188"/></g><g id="k14-4"><use href="#Bl" x="240"/></g><g id="k14-5"><use href="#Dl" x="292"/></g><g id="k14-6"><use href="#Dl" x="344"/></g><g id="k14-7"><use href="#Bl" x="396"/></g><g id="k14-8"><use href="#Bl" x="448"/></g><g id="k14-9"><use href="#Bl" x="500"/></g><g id="k14-10"><use href="#Dl" x="552"/></g><g id="k14-11"><use href="#Dl" x="604"/></g><g id="k14-12"><use href="#Dl" x="656"/></g><g id="k14-13"><use href="#Dl" x="708"/></g><g id="k14-14"><use href="#Dl" x="760"/></g><g id="k14-15"><use href="#Dl" x="812"/></g><g id="k14-16"><use href="#Dl" x="864"/></g><g id="k14-17"><use href="#Dl" x="916"/></g><g id="k14-18"><use href="#Dl" x="968"/></g><g id="k14-19"><use href="#Dl" x="1020"/></g><g id="k14-20"><use href="#Dl" x="1072"/></g><g id="k14-21"><use href="#Dl" x="1124"/></g><g id="k14-22"><use href="#Dl" x="1176"/></g><g id="k14-23"><use href="#Dl" x="1228"/></g><g id="k14-24"><use href="#Dl" x="1280"/></g><g id="k14-25"><use href="#Dl" x="1332"/></g><g id="k14-26"><use href="#Dl" x="1384"/></g><g id="k14-27"><use href="#Bl" x="1436"/></g><g id="k14-28"><use href="#Bl" x="1488"/></g><g id="k14-29"><use href="#Bl" x="1540"/></g><g id="k14-30"><use href="#Al" x="1592"/></g>
</g>
<g id="row15" transform="translate(0 790)">
<g id="k15-1"><use href="#Ar" x="84"/></g><g id="k15-2"><use href="#Ar" x="136"/></g><g id="k15-3"><use href="#Br" x="188"/></g><g id="k15-4"><use href="#Br" x="240"/></g><g id="k15-5"><use href="#Br" x="292"/></g><g id="k15-6"><use href="#Br" x="344"/></g><g id="k15-7"><use href="#Br" x="396"/></g><g id="k15-8"><use href="#Br" x="448"/></g><g id="k15-9"><use href="#Br" x="500"/></g><g id="k15-10"><use href="#Br" x="552"/></g><g id="k15-11"><use href="#Dr" x="604"/></g><g id="k15-12"><use href="#Dr" x="656"/></g><g id="k15-13"><use href="#Dr" x="708"/></g><g id="k15-14"><use href="#Dr" x="760"/></g><g id="k15-15"><use href="#Dr" x="812"/></g><g id="k15-16"><use href="#Dr" x="864"/></g><g id="k15-17"><use href="#Dr" x="916"/></g><g id="k15-18"><use href="#Dr" x="968"/></g><g id="k15-19"><use href="#Dr" x="1020"/></g><g id="k15-20"><use href="#Dr" x="1072"/></g><g id="k15-21"><use href="#Dr" x="1124"/></g><g id="k15-22"><use href="#Dr" x="1176"/></g><g id="k15-23"><use href="#Dr" x="1228"/></g><g id="k15-24"><use href="#Dr" x="1280"/></g><g id="k15-25"><use href="#Dr" x="1332"/></g><g id="k15-26"><use href="#Dr" x="1384"/></g><g id="k15-27"><use href="#Br" x="1436"/></g><g id="k15-28"><use href="#Cr" x="1488"/></g><g id="k15-29"><use href="#Br" x="1540"/></g><g id="k15-30"><use href="#Ar" x="1592"/></g>
</g>
<g id="row16" transform="translate(0 842)">
<g id="k16-1"><use href="#Al" x="84"/></g><g id="k16-2"><use href="#Al" x="136"/></g><g id="k16-3"><use href="#Bl" x="188"/></g><g id="k16-4"><use href="#Bl" x="240"/></g><g id="k16-5"><use href="#Bl" x="292"/></g><g id="k16-6"><use href="#Bl" x="344"/></g><g id="k16-7"><use href="#Bl" x="396"/></g><g id="k16-8"><use href="#Bl" x="448"/></g><g id="k16-9"><use href="#Dl" x="500"/></g><g id="k16-10"><use href="#Dl" x="552"/></g><g id="k16-11"><use href="#Bl" x="604"/></g><g id="k16-12"><use href="#Bl" x="656"/></g><g id="k16-13"><use href="#Dl" x="708"/></g><g id="k16-14"><use href="#Dl" x="760"/></g><g id="k16-15"><use href="#Dl" x="812"/></g><g id="k16-16"><use href="#Dl" x="864"/></g><g id="k16-17"><use href="#Dl" x="916"/></g><g id="k16-18"><use href="#Dl" x="968"/></g><g id="k16-19"><use href="#Dl" x="1020"/></g><g id="k16-20"><use href="#Dl" x="1072"/></g><g id="k16-21"><use href="#Dl" x="1124"/></g><g id="k16-22"><use href="#Dl" x="1176"/></g><g id="k16-23"><use href="#Dl" x="1228"/></g><g id="k16-24"><use href="#Dl" x="1280"/></g><g id="k16-25"><use href="#Dl" x="1332"/></g><g id="k16-26"><use href="#Dl" x="1384"/></g><g id="k16-27"><use href="#Bl" x="1436"/></g><g id="k16-28"><use href="#Cl" x="1488"/></g><g id="k16-29"><use href="#Bl" x="1540"/></g><g id="k16-30"><use href="#Al" x="1592"/></g>
</g>
<g id="row17" transform="translate(0 894)">
<g id="k17-1"><use href="#Ar" x="84"/></g><g id="k17-2"><use href="#Ar" x="136"/></g><g id="k17-3"><use href="#Br" x="188"/></g><g id="k17-4"><use href="#Cr" x="240"/></g><g id="k17-5"><use href="#Dr" x="292"/></g><g id="k17-6"><use href="#Dr" x="344"/></g><g id="k17-7"><use href="#Br" x="396"/></g><g id="k17-8"><use href="#Dr" x="448"/></g><g id="k17-9"><use href="#Dr" x="500"/></g><g id="k17-10"><use href="#Dr" x="552"/></g><g id="k17-11"><use href="#Dr" x="604"/></g><g id="k17-12"><use href="#Dr" x="656"/></g><g id="k17-13"><use href="#Dr" x="708"/></g><g id="k17-14"><use href="#Dr" x="760"/></g><g id="k17-15"><use href="#Dr" x="812"/></g><g id="k17-16"><use href="#Dr" x="864"/></g><g id="k17-17"><use href="#Dr" x="916"/></g><g id="k17-18"><use href="#Dr" x="968"/></g><g id="k17-19"><use href="#Dr" x="1020"/></g><g id="k17-20"><use href="#Dr" x="1072"/></g><g id="k17-21"><use href="#Dr" x="1124"/></g><g id="k17-22"><use href="#Dr" x="1176"/></g><g id="k17-23"><use href="#Dr" x="1228"/></g><g id="k17-24"><use href="#Dr" x="1280"/></g><g id="k17-25"><use href="#Dr" x="1332"/></g><g id="k17-26"><use href="#Dr" x="1384"/></g><g id="k17-27"><use href="#Br" x="1436"/></g><g id="k17-28"><use href="#Br" x="1488"/></g><g id="k17-29"><use href="#Br" x="1540"/></g><g id="k17-30"><use href="#Ar" x="1592"/></g>
</g>
<g id="row18" transform="translate(0 946)">
<g id="k18-1"><use href="#Al" x="84"/></g><g id="k18-2"><use href="#Bl" x="136"/></g><g id="k18-3"><use href="#Cl" x="188"/></g><g id="k18-4"><use href="#Cl" x="240"/></g><g id="k18-5"><use href="#Dl" x="292"/></g><g id="k18-6"><use href="#Dl" x="344"/></g><g id="k18-7"><use href="#Dl" x="396"/></g><g id="k18-8"><use href="#Bl" x="448"/></g><g id="k18-9"><use href="#Dl" x="500"/></g><g id="k18-10"><use href="#Dl" x="552"/></g><g id="k18-11"><use href="#Dl" x="604"/></g><g id="k18-12"><use href="#Dl" x="656"/></g><g id="k18-13"><use href="#Dl" x="708"/></g><g id="k18-14"><use href="#Bl" x="760"/></g><g id="k18-15"><use href="#Dl" x="812"/></g><g id="k18-16"><use href="#Dl" x="864"/></g><g id="k18-17"><use href="#Dl" x="916"/></g><g id="k18-18"><use href="#Dl" x="968"/></g><g id="k18-19"><use href="#Dl" x="1020"/></g><g id="k18-20"><use href="#Dl" x="1072"/></g><g id="k18-21"><use href="#Dl" x="1124"/></g><g id="k18-22"><use href="#Dl" x="1176"/></g><g id="k18-23"><use href="#Dl" x="1228"/></g><g id="k18-24"><use href="#Dl" x="1280"/></g><g id="k18-25"><use href="#Dl" x="1332"/></g><g id="k18-26"><use href="#Bl" x="1384"/></g><g id="k18-27"><use href="#Cl" x="1436"/></g><g id="k18-28"><use href="#Bl" x="1488"/></g><g id="k18-29"><use href="#Al" x="1540"/></g><g id="k18-30"><use href="#Al" x="1592"/></g>
</g>
<g id="row19" transform="translate(0 998)">
<g id="k19-1"><use href="#Ar" x="84"/></g><g id="k19-2"><use href="#Br" x="136"/></g><g id="k19-3"><use href="#Cr" x="188"/></g><g id="k19-4"><use href="#Cr" x="240"/></g><g id="k19-5"><use href="#Dr" x="292"/></g><g id="k19-6"><use href="#Dr" x="344"/></g><g id="k19-7"><use href="#Dr" x="396"/></g><g id="k19-8"><use href="#Dr" x="448"/></g><g id="k19-9"><use href="#Br" x="500"/></g><g id="k19-10"><use href="#Dr" x="552"/></g><g id="k19-11"><use href="#Dr" x="604"/></g><g id="k19-12"><use href="#Dr" x="656"/></g><g id="k19-13"><use href="#Br" x="708"/></g><g id="k19-14"><use href="#Cr" x="760"/></g><g id="k19-15"><use href="#Br" x="812"/></g><g id="k19-16"><use href="#Dr" x="864"/></g><g id="k19-17"><use href="#Dr" x="916"/></g><g id="k19-18"><use href="#Dr" x="968"/></g><g id="k19-19"><use href="#Dr" x="1020"/></g><g id="k19-20"><use href="#Dr" x="1072"/></g><g id="k19-21"><use href="#Dr" x="1124"/></g><g id="k19-22"><use href="#Dr" x="1176"/></g><g id="k19-23"><use href="#Dr" x="1228"/></g><g id="k19-24"><use href="#Dr" x="1280"/></g><g id="k19-25"><use href="#Br" x="1332"/></g><g id="k19-26"><use href="#Cr" x="1384"/></g><g id="k19-27"><use href="#Br" x="1436"/></g><g id="k19-28"><use href="#Br" x="1488"/></g><g id="k19-29"><use href="#Ar" x="1540"/></g><g id="k19-30"><use href="#Ar" x="1592"/></g>
</g>
<g id="row20" transform="translate(0 1050)">
<g id="k20-1"><use href="#Al" x="84"/></g><g id="k20-2"><use href="#Bl" x="136"/></g><g id="k20-3"><use href="#Cl" x="188"/></g><g id="k20-4"><use href="#Cl" x="240"/></g><g id="k20-5"><use href="#Dl" x="292"/></g><g id="k20-6"><use href="#Dl" x="344"/></g><g id="k20-7"><use href="#Dl" x="396"/></g><g id="k20-8"><use href="#Dl" x="448"/></g><g id="k20-9"><use href="#Dl" x="500"/></g><g id="k20-10"><use href="#Dl" x="552"/></g><g id="k20-11"><use href="#Dl" x="604"/></g><g id="k20-12"><use href="#Dl" x="656"/></g><g id="k20-13"><use href="#Bl" x="708"/></g><g id="k20-14"><use href="#Cl" x="760"/></g><g id="k20-15"><use href="#Bl" x="812"/></g><g id="k20-16"><use href="#Dl" x="864"/></g><g id="k20-17"><use href="#Dl" x="916"/></g><g id="k20-18"><use href="#Dl" x="968"/></g><g id="k20-19"><use href="#Dl" x="1020"/></g><g id="k20-20"><use href="#Dl" x="1072"/></g><g id="k20-21"><use href="#Dl" x="1124"/></g><g id="k20-22"><use href="#Dl" x="1176"/></g><g id="k20-23"><use href="#Dl" x="1228"/></g><g id="k20-24"><use href="#Bl" x="1280"/></g><g id="k20-25"><use href="#Cl" x="1332"/></g><g id="k20-26"><use href="#Bl" x="1384"/></g><g id="k20-27"><use href="#Bl" x="1436"/></g><g id="k20-28"><use href="#Al" x="1488"/></g><g id="k20-29"><use href="#Al" x="1540"/></g><g id="k20-30"><use href="#Al" x="1592"/></g>
</g>
<g id="row21" transform="translate(0 1102)">
<g id="k21-1"><use href="#Ar" x="84"/></g><g id="k21-2"><use href="#Ar" x="136"/></g><g id="k21-3"><use href="#Br" x="188"/></g><g id="k21-4"><use href="#Cr" x="240"/></g><g id="k21-5"><use href="#Dr" x="292"/></g><g id="k21-6"><use href="#Dr" x="344"/></g><g id="k21-7"><use href="#Dr" x="396"/></g><g id="k21-8"><use href="#Dr" x="448"/></g><g id="k21-9"><use href="#Dr" x="500"/></g><g id="k21-10"><use href="#Dr" x="552"/></g><g id="k21-11"><use href="#Dr" x="604"/></g><g id="k21-12"><use href="#Dr" x="656"/></g><g id="k21-13"><use href="#Dr" x="708"/></g><g id="k21-14"><use href="#Br" x="760"/></g><g id="k21-15"><use href="#Cr" x="812"/></g><g id="k21-16"><use href="#Br" x="864"/></g><g id="k21-17"><use href="#Dr" x="916"/></g><g id="k21-18"><use href="#Dr" x="968"/></g><g id="k21-19"><use href="#Dr" x="1020"/></g><g id="k21-20"><use href="#Dr" x="1072"/></g><g id="k21-21"><use href="#Dr" x="1124"/></g><g id="k21-22"><use href="#Br" x="1176"/></g><g id="k21-23"><use href="#Br" x="1228"/></g><g id="k21-24"><use href="#Cr" x="1280"/></g><g id="k21-25"><use href="#Br" x="1332"/></g><g id="k21-26"><use href="#Br" x="1384"/></g><g id="k21-27"><use href="#Br" x="1436"/></g><g id="k21-28"><use href="#Br" x="1488"/></g><g id="k21-29"><use href="#Ar" x="1540"/></g><g id="k21-30"><use href="#Ar" x="1592"/></g>
</g>
<g id="row22" transform="translate(0 1154)">
<g id="k22-1"><use href="#Al" x="84"/></g><g id="k22-2"><use href="#Al" x="136"/></g><g id="k22-3"><use href="#Al" x="188"/></g><g id="k22-4"><use href="#Bl" x="240"/></g><g id="k22-5"><use href="#Bl" x="292"/></g><g id="k22-6"><use href="#Dl" x="344"/></g><g id="k22-7"><use href="#Dl" x="396"/></g><g id="k22-8"><use href="#Dl" x="448"/></g><g id="k22-9"><use href="#Dl" x="500"/></g><g id="k22-10"><use href="#Dl" x="552"/></g><g id="k22-11"><use href="#Dl" x="604"/></g><g id="k22-12"><use href="#Dl" x="656"/></g><g id="k22-13"><use href="#Dl" x="708"/></g><g id="k22-14"><use href="#Bl" x="760"/></g><g id="k22-15"><use href="#Cl" x="812"/></g><g id="k22-16"><use href="#Bl" x="864"/></g><g id="k22-17"><use href="#Bl" x="916"/></g><g id="k22-18"><use href="#Bl" x="968"/></g><g id="k22-19"><use href="#Bl" x="1020"/></g><g id="k22-20"><use href="#Bl" x="1072"/></g><g id="k22-21"><use href="#Bl" x="1124"/></g><g id="k22-22"><use href="#Cl" x="1176"/></g><g id="k22-23"><use href="#Cl" x="1228"/></g><g id="k22-24"><use href="#Bl" x="1280"/></g><g id="k22-25"><use href="#Bl" x="1332"/></g><g id="k22-26"><use href="#Bl" x="1384"/></g><g id="k22-27"><use href="#Dl" x="1436"/></g><g id="k22-28"><use href="#Bl" x="1488"/></g><g id="k22-29"><use href="#Al" x="1540"/></g><g id="k22-30"><use href="#Al" x="1592"/></g>
</g>
<g id="row23" transform="translate(0 1206)">
<g id="k23-1"><use href="#Ar" x="84"/></g><g id="k23-2"><use href="#Ar" x="136"/></g><g id="k23-3"><use href="#Ar" x="188"/></g><g id="k23-4"><use href="#Ar" x="240"/></g><g id="k23-5"><use href="#Ar" x="292"/></g><g id="k23-6"><use href="#Br" x="344"/></g><g id="k23-7"><use href="#Br" x="396"/></g><g id="k23-8"><use href="#Dr" x="448"/></g><g id="k23-9"><use href="#Dr" x="500"/></g><g id="k23-10"><use href="#Dr" x="552"/></g><g id="k23-11"><use href="#Dr" x="604"/></g><g id="k23-12"><use href="#Dr" x="656"/></g><g id="k23-13"><use href="#Er" x="708"/></g><g id="k23-14"><use href="#Er" x="760"/></g><g id="k23-15"><use href="#Br" x="812"/></g><g id="k23-16"><use href="#Cr" x="864"/></g><g id="k23-17"><use href="#Cr" x="916"/></g><g id="k23-18"><use href="#Br" x="968"/></g><g id="k23-19"><use href="#Cr" x="1020"/></g><g id="k23-20"><use href="#Cr" x="1072"/></g><g id="k23-21"><use href="#Br" x="1124"/></g><g id="k23-22"><use href="#Br" x="1176"/></g><g id="k23-23"><use href="#Br" x="1228"/></g><g id="k23-24"><use href="#Br" x="1280"/></g><g id="k23-25"><use href="#Dr" x="1332"/></g><g id="k23-26"><use href="#Dr" x="1384"/></g><g id="k23-27"><use href="#Dr" x="1436"/></g><g id="k23-28"><use href="#Br" x="1488"/></g><g id="k23-29"><use href="#Ar" x="1540"/></g><g id="k23-30"><use href="#Ar" x="1592"/></g>
</g>
<g id="row24" transform="translate(0 1258)">
<g id="k24-1"><use href="#Al" x="84"/></g><g id="k24-2"><use href="#Al" x="136"/></g><g id="k24-3"><use href="#Al" x="188"/></g><g id="k24-4"><use href="#Al" x="240"/></g><g id="k24-5"><use href="#Al" x="292"/></g><g id="k24-6"><use href="#Bl" x="344"/></g><g id="k24-7"><use href="#Cl" x="396"/></g><g id="k24-8"><use href="#Bl" x="448"/></g><g id="k24-9"><use href="#Dl" x="500"/></g><g id="k24-10"><use href="#Dl" x="552"/></g><g id="k24-11"><use href="#Dl" x="604"/></g><g id="k24-12"><use href="#Dl" x="656"/></g><g id="k24-13"><use href="#Dl" x="708"/></g><g id="k24-14"><use href="#Dl" x="760"/></g><g id="k24-15"><use href="#Dl" x="812"/></g><g id="k24-16"><use href="#Bl" x="864"/></g><g id="k24-17"><use href="#Bl" x="916"/></g><g id="k24-18"><use href="#Bl" x="968"/></g><g id="k24-19"><use href="#Bl" x="1020"/></g><g id="k24-20"><use href="#Bl" x="1072"/></g><g id="k24-21"><use href="#El" x="1124"/></g><g id="k24-22"><use href="#Dl" x="1176"/></g><g id="k24-23"><use href="#Bl" x="1228"/></g><g id="k24-24"><use href="#Dl" x="1280"/></g><g id="k24-25"><use href="#El" x="1332"/></g><g id="k24-26"><use href="#Dl" x="1384"/></g><g id="k24-27"><use href="#Dl" x="1436"/></g><g id="k24-28"><use href="#Bl" x="1488"/></g><g id="k24-29"><use href="#Al" x="1540"/></g><g id="k24-30"><use href="#Al" x="1592"/></g>
</g>
<g id="row25" transform="translate(0 1310)">
<g id="k25-1"><use href="#Ar" x="84"/></g><g id="k25-2"><use href="#Ar" x="136"/></g><g id="k25-3"><use href="#Ar" x="188"/></g><g id="k25-4"><use href="#Ar" x="240"/></g><g id="k25-5"><use href="#Br" x="292"/></g><g id="k25-6"><use href="#Br" x="344"/></g><g id="k25-7"><use href="#Br" x="396"/></g><g id="k25-8"><use href="#Br" x="448"/></g><g id="k25-9"><use href="#Dr" x="500"/></g><g id="k25-10"><use href="#Dr" x="552"/></g><g id="k25-11"><use href="#Dr" x="604"/></g><g id="k25-12"><use href="#Dr" x="656"/></g><g id="k25-13"><use href="#Dr" x="708"/></g><g id="k25-14"><use href="#Dr" x="760"/></g><g id="k25-15"><use href="#Er" x="812"/></g><g id="k25-16"><use href="#Er" x="864"/></g><g id="k25-17"><use href="#Er" x="916"/></g><g id="k25-18"><use href="#Er" x="968"/></g><g id="k25-19"><use href="#Dr" x="1020"/></g><g id="k25-20"><use href="#Er" x="1072"/></g><g id="k25-21"><use href="#Er" x="1124"/></g><g id="k25-22"><use href="#Dr" x="1176"/></g><g id="k25-23"><use href="#Br" x="1228"/></g><g id="k25-24"><use href="#Er" x="1280"/></g><g id="k25-25"><use href="#Dr" x="1332"/></g><g id="k25-26"><use href="#Dr" x="1384"/></g><g id="k25-27"><use href="#Br" x="1436"/></g><g id="k25-28"><use href="#Ar" x="1488"/></g><g id="k25-29"><use href="#Ar" x="1540"/></g><g id="k25-30"><use href="#Ar" x="1592"/></g>
</g>
<g id="row26" transform="translate(0 1362)">
<g id="k26-1"><use href="#Al" x="84"/></g><g id="k26-2"><use href="#Al" x="136"/></g><g id="k26-3"><use href="#Al" x="188"/></g><g id="k26-4"><use href="#Bl" x="240"/></g><g id="k26-5"><use href="#Cl" x="292"/></g><g id="k26-6"><use href="#Dl" x="344"/></g><g id="k26-7"><use href="#Bl" x="396"/></g><g id="k26-8"><use href="#Bl" x="448"/></g><g id="k26-9"><use href="#Dl" x="500"/></g><g id="k26-10"><use href="#Dl" x="552"/></g><g id="k26-11"><use href="#Dl" x="604"/></g><g id="k26-12"><use href="#Dl" x="656"/></g><g id="k26-13"><use href="#Dl" x="708"/></g><g id="k26-14"><use href="#Dl" x="760"/></g><g id="k26-15"><use href="#Dl" x="812"/></g><g id="k26-16"><use href="#Dl" x="864"/></g><g id="k26-17"><use href="#Dl" x="916"/></g><g id="k26-18"><use href="#Dl" x="968"/></g><g id="k26-19"><use href="#El" x="1020"/></g><g id="k26-20"><use href="#El" x="1072"/></g><g id="k26-21"><use href="#El" x="1124"/></g><g id="k26-22"><use href="#Dl" x="1176"/></g><g id="k26-23"><use href="#Bl" x="1228"/></g><g id="k26-24"><use href="#El" x="1280"/></g><g id="k26-25"><use href="#Dl" x="1332"/></g><g id="k26-26"><use href="#Dl" x="1384"/></g><g id="k26-27"><use href="#Bl" x="1436"/></g><g id="k26-28"><use href="#Al" x="1488"/></g><g id="k26-29"><use href="#Al" x="1540"/></g><g id="k26-30"><use href="#Al" x="1592"/></g>
</g>
<g id="row27" transform="translate(0 1414)">
<g id="k27-1"><use href="#Ar" x="84"/></g><g id="k27-2"><use href="#Ar" x="136"/></g><g id="k27-3"><use href="#Br" x="188"/></g><g id="k27-4"><use href="#Cr" x="240"/></g><g id="k27-5"><use href="#Cr" x="292"/></g><g id="k27-6"><use href="#Dr" x="344"/></g><g id="k27-7"><use href="#Dr" x="396"/></g><g id="k27-8"><use href="#Dr" x="448"/></g><g id="k27-9"><use href="#Dr" x="500"/></g><g id="k27-10"><use href="#Dr" x="552"/></g><g id="k27-11"><use href="#Dr" x="604"/></g><g id="k27-12"><use href="#Dr" x="656"/></g><g id="k27-13"><use href="#Dr" x="708"/></g><g id="k27-14"><use href="#Dr" x="760"/></g><g id="k27-15"><use href="#Dr" x="812"/></g><g id="k27-16"><use href="#Dr" x="864"/></g><g id="k27-17"><use href="#Dr" x="916"/></g><g id="k27-18"><use href="#Er" x="968"/></g><g id="k27-19"><use href="#Er" x="1020"/></g><g id="k27-20"><use href="#Er" x="1072"/></g><g id="k27-21"><use href="#Dr" x="1124"/></g><g id="k27-22"><use href="#Dr" x="1176"/></g><g id="k27-23"><use href="#Br" x="1228"/></g><g id="k27-24"><use href="#Dr" x="1280"/></g><g id="k27-25"><use href="#Dr" x="1332"/></g><g id="k27-26"><use href="#Br" x="1384"/></g><g id="k27-27"><use href="#Ar" x="1436"/></g><g id="k27-28"><use href="#Ar" x="1488"/></g><g id="k27-29"><use href="#Ar" x="1540"/></g><g id="k27-30"><use href="#Ar" x="1592"/></g>
</g>
<g id="row28" transform="translate(0 1466)">
<g id="k28-1"><use href="#Al" x="84"/></g><g id="k28-2"><use href="#Al" x="136"/></g><g id="k28-3"><use href="#Bl" x="188"/></g><g id="k28-4"><use href="#Cl" x="240"/></g><g id="k28-5"><use href="#Cl" x="292"/></g><g id="k28-6"><use href="#Dl" x="344"/></g><g id="k28-7"><use href="#Dl" x="396"/></g><g id="k28-8"><use href="#Dl" x="448"/></g><g id="k28-9"><use href="#Dl" x="500"/></g><g id="k28-10"><use href="#Dl" x="552"/></g><g id="k28-11"><use href="#Dl" x="604"/></g><g id="k28-12"><use href="#Dl" x="656"/></g><g id="k28-13"><use href="#Dl" x="708"/></g><g id="k28-14"><use href="#Dl" x="760"/></g><g id="k28-15"><use href="#Dl" x="812"/></g><g id="k28-16"><use href="#Dl" x="864"/></g><g id="k28-17"><use href="#Dl" x="916"/></g><g id="k28-18"><use href="#Dl" x="968"/></g><g id="k28-19"><use href="#Dl" x="1020"/></g><g id="k28-20"><use href="#Dl" x="1072"/></g><g id="k28-21"><use href="#Dl" x="1124"/></g><g id="k28-22"><use href="#Bl" x="1176"/></g><g id="k28-23"><use href="#Dl" x="1228"/></g><g id="k28-24"><use href="#Dl" x="1280"/></g><g id="k28-25"><use href="#Bl" x="1332"/></g><g id="k28-26"><use href="#Al" x="1384"/></g><g id="k28-27"><use href="#Al" x="1436"/></g><g id="k28-28"><use href="#Al" x="1488"/></g><g id="k28-29"><use href="#Al" x="1540"/></g><g id="k28-30"><use href="#Al" x="1592"/></g>
</g>
<g id="row29" transform="translate(0 1518)">
<g id="k29-1"><use href="#Ar" x="84"/></g><g id="k29-2"><use href="#Ar" x="136"/></g><g id="k29-3"><use href="#Br" x="188"/></g><g id="k29-4"><use href="#Cr" x="240"/></g><g id="k29-5"><use href="#Cr" x="292"/></g><g id="k29-6"><use href="#Dr" x="344"/></g><g id="k29-7"><use href="#Dr" x="396"/></g><g id="k29-8"><use href="#Dr" x="448"/></g><g id="k29-9"><use href="#Dr" x="500"/></g><g id="k29-10"><use href="#Dr" x="552"/></g><g id="k29-11"><use href="#Dr" x="604"/></g><g id="k29-12"><use href="#Dr" x="656"/></g><g id="k29-13"><use href="#Dr" x="708"/></g><g id="k29-14"><use href="#Dr" x="760"/></g><g id="k29-15"><use href="#Dr" x="812"/></g><g id="k29-16"><use href="#Dr" x="864"/></g><g id="k29-17"><use href="#Dr" x="916"/></g><g id="k29-18"><use href="#Dr" x="968"/></g><g id="k29-19"><use href="#Dr" x="1020"/></g><g id="k29-20"><use href="#Dr" x="1072"/></g><g id="k29-21"><use href="#Dr" x="1124"/></g><g id="k29-22"><use href="#Br" x="1176"/></g><g id="k29-23"><use href="#Dr" x="1228"/></g><g id="k29-24"><use href="#Br" x="1280"/></g><g id="k29-25"><use href="#Ar" x="1332"/></g><g id="k29-26"><use href="#Ar" x="1384"/></g><g id="k29-27"><use href="#Ar" x="1436"/></g><g id="k29-28"><use href="#Ar" x="1488"/></g><g id="k29-29"><use href="#Ar" x="1540"/></g><g id="k29-30"><use href="#Ar" x="1592"/></g>
</g>
<g id="row30" transform="translate(0 1570)">
<g id="k30-1"><use href="#Al" x="84"/></g><g id="k30-2"><use href="#Al" x="136"/></g><g id="k30-3"><use href="#Al" x="188"/></g><g id="k30-4"><use href="#Bl" x="240"/></g><g id="k30-5"><use href="#Cl" x="292"/></g><g id="k30-6"><use href="#Dl" x="344"/></g><g id="k30-7"><use href="#Dl" x="396"/></g><g id="k30-8"><use href="#Dl" x="448"/></g><g id="k30-9"><use href="#Dl" x="500"/></g><g id="k30-10"><use href="#Dl" x="552"/></g><g id="k30-11"><use href="#Dl" x="604"/></g><g id="k30-12"><use href="#Dl" x="656"/></g><g id="k30-13"><use href="#Dl" x="708"/></g><g id="k30-14"><use href="#Dl" x="760"/></g><g id="k30-15"><use href="#Dl" x="812"/></g><g id="k30-16"><use href="#Dl" x="864"/></g><g id="k30-17"><use href="#Dl" x="916"/></g><g id="k30-18"><use href="#Dl" x="968"/></g><g id="k30-19"><use href="#Dl" x="1020"/></g><g id="k30-20"><use href="#Dl" x="1072"/></g><g id="k30-21"><use href="#Bl" x="1124"/></g><g id="k30-22"><use href="#Bl" x="1176"/></g><g id="k30-23"><use href="#Bl" x="1228"/></g><g id="k30-24"><use href="#Al" x="1280"/></g><g id="k30-25"><use href="#Al" x="1332"/></g><g id="k30-26"><use href="#Al" x="1384"/></g><g id="k30-27"><use href="#Al" x="1436"/></g><g id="k30-28"><use href="#Al" x="1488"/></g><g id="k30-29"><use href="#Al" x="1540"/></g><g id="k30-30"><use href="#Al" x="1592"/></g>
</g>
<g id="row31" transform="translate(0 1622)">
<g id="k31-1"><use href="#Ar" x="84"/></g><g id="k31-2"><use href="#Ar" x="136"/></g><g id="k31-3"><use href="#Ar" x="188"/></g><g id="k31-4"><use href="#Ar" x="240"/></g><g id="k31-5"><use href="#Br" x="292"/></g><g id="k31-6"><use href="#Br" x="344"/></g><g id="k31-7"><use href="#Br" x="396"/></g><g id="k31-8"><use href="#Br" x="448"/></g><g id="k31-9"><use href="#Br" x="500"/></g><g id="k31-10"><use href="#Dr" x="552"/></g><g id="k31-11"><use href="#Dr" x="604"/></g><g id="k31-12"><use href="#Dr" x="656"/></g><g id="k31-13"><use href="#Dr" x="708"/></g><g id="k31-14"><use href="#Dr" x="760"/></g><g id="k31-15"><use href="#Dr" x="812"/></g><g id="k31-16"><use href="#Dr" x="864"/></g><g id="k31-17"><use href="#Dr" x="916"/></g><g id="k31-18"><use href="#Dr" x="968"/></g><g id="k31-19"><use href="#Dr" x="1020"/></g><g id="k31-20"><use href="#Br" x="1072"/></g><g id="k31-21"><use href="#Ar" x="1124"/></g><g id="k31-22"><use href="#Ar" x="1176"/></g><g id="k31-23"><use href="#Ar" x="1228"/></g><g id="k31-24"><use href="#Ar" x="1280"/></g><g id="k31-25"><use href="#Ar" x="1332"/></g><g id="k31-26"><use href="#Ar" x="1384"/></g><g id="k31-27"><use href="#Ar" x="1436"/></g><g id="k31-28"><use href="#Ar" x="1488"/></g><g id="k31-29"><use href="#Ar" x="1540"/></g><g id="k31-30"><use href="#Ar" x="1592"/></g>
</g>
<g id="row32" transform="translate(0 1674)">
<g id="k32-1"><use href="#Al" x="84"/></g><g id="k32-2"><use href="#Al" x="136"/></g><g id="k32-3"><use href="#Al" x="188"/></g><g id="k32-4"><use href="#Al" x="240"/></g><g id="k32-5"><use href="#Al" x="292"/></g><g id="k32-6"><use href="#Al" x="344"/></g><g id="k32-7"><use href="#Al" x="396"/></g><g id="k32-8"><use href="#Al" x="448"/></g><g id="k32-9"><use href="#Al" x="500"/></g><g id="k32-10"><use href="#Bl" x="552"/></g><g id="k32-11"><use href="#Bl" x="604"/></g><g id="k32-12"><use href="#Bl" x="656"/></g><g id="k32-13"><use href="#Bl" x="708"/></g><g id="k32-14"><use href="#Bl" x="760"/></g><g id="k32-15"><use href="#Bl" x="812"/></g><g id="k32-16"><use href="#Bl" x="864"/></g><g id="k32-17"><use href="#Bl" x="916"/></g><g id="k32-18"><use href="#Bl" x="968"/></g><g id="k32-19"><use href="#Bl" x="1020"/></g><g id="k32-20"><use href="#Al" x="1072"/></g><g id="k32-21"><use href="#Al" x="1124"/></g><g id="k32-22"><use href="#Al" x="1176"/></g><g id="k32-23"><use href="#Al" x="1228"/></g><g id="k32-24"><use href="#Al" x="1280"/></g><g id="k32-25"><use href="#Al" x="1332"/></g><g id="k32-26"><use href="#Al" x="1384"/></g><g id="k32-27"><use href="#Al" x="1436"/></g><g id="k32-28"><use href="#Al" x="1488"/></g><g id="k32-29"><use href="#Al" x="1540"/></g><g id="k32-30"><use href="#Al" x="1592"/></g>
</g>
<g id="row33" transform="translate(0 1726)">
<g id="k33-1"><use href="#Ar" x="84"/></g><g id="k33-2"><use href="#Ar" x="136"/></g><g id="k33-3"><use href="#Ar" x="188"/></g><g id="k33-4"><use href="#Ar" x="240"/></g><g id="k33-5"><use href="#Ar" x="292"/></g><g id="k33-6"><use href="#Ar" x="344"/></g><g id="k33-7"><use href="#Ar" x="396"/></g><g id="k33-8"><use href="#Ar" x="448"/></g><g id="k33-9"><use href="#Ar" x="500"/></g><g id="k33-10"><use href="#Ar" x="552"/></g><g id="k33-11"><use href="#Ar" x="604"/></g><g id="k33-12"><use href="#Ar" x="656"/></g><g id="k33-13"><use href="#Ar" x="708"/></g><g id="k33-14"><use href="#Ar" x="760"/></g><g id="k33-15"><use href="#Ar" x="812"/></g><g id="k33-16"><use href="#Ar" x="864"/></g><g id="k33-17"><use href="#Ar" x="916"/></g><g id="k33-18"><use href="#Ar" x="968"/></g><g id="k33-19"><use href="#Ar" x="1020"/></g><g id="k33-20"><use href="#Ar" x="1072"/></g><g id="k33-21"><use href="#Ar" x="1124"/></g><g id="k33-22"><use href="#Ar" x="1176"/></g><g id="k33-23"><use href="#Ar" x="1228"/></g><g id="k33-24"><use href="#Ar" x="1280"/></g><g id="k33-25"><use href="#Ar" x="1332"/></g><g id="k33-26"><use href="#Ar" x="1384"/></g><g id="k33-27"><use href="#Ar" x="1436"/></g><g id="k33-28"><use href="#Ar" x="1488"/></g><g id="k33-29"><use href="#Ar" x="1540"/></g><g id="k33-30"><use href="#Ar" x="1592"/></g>
</g>
</g>
<text class="wm" x="838" y="924.5">BRACELETBOOK.COM</text>
</svg>
